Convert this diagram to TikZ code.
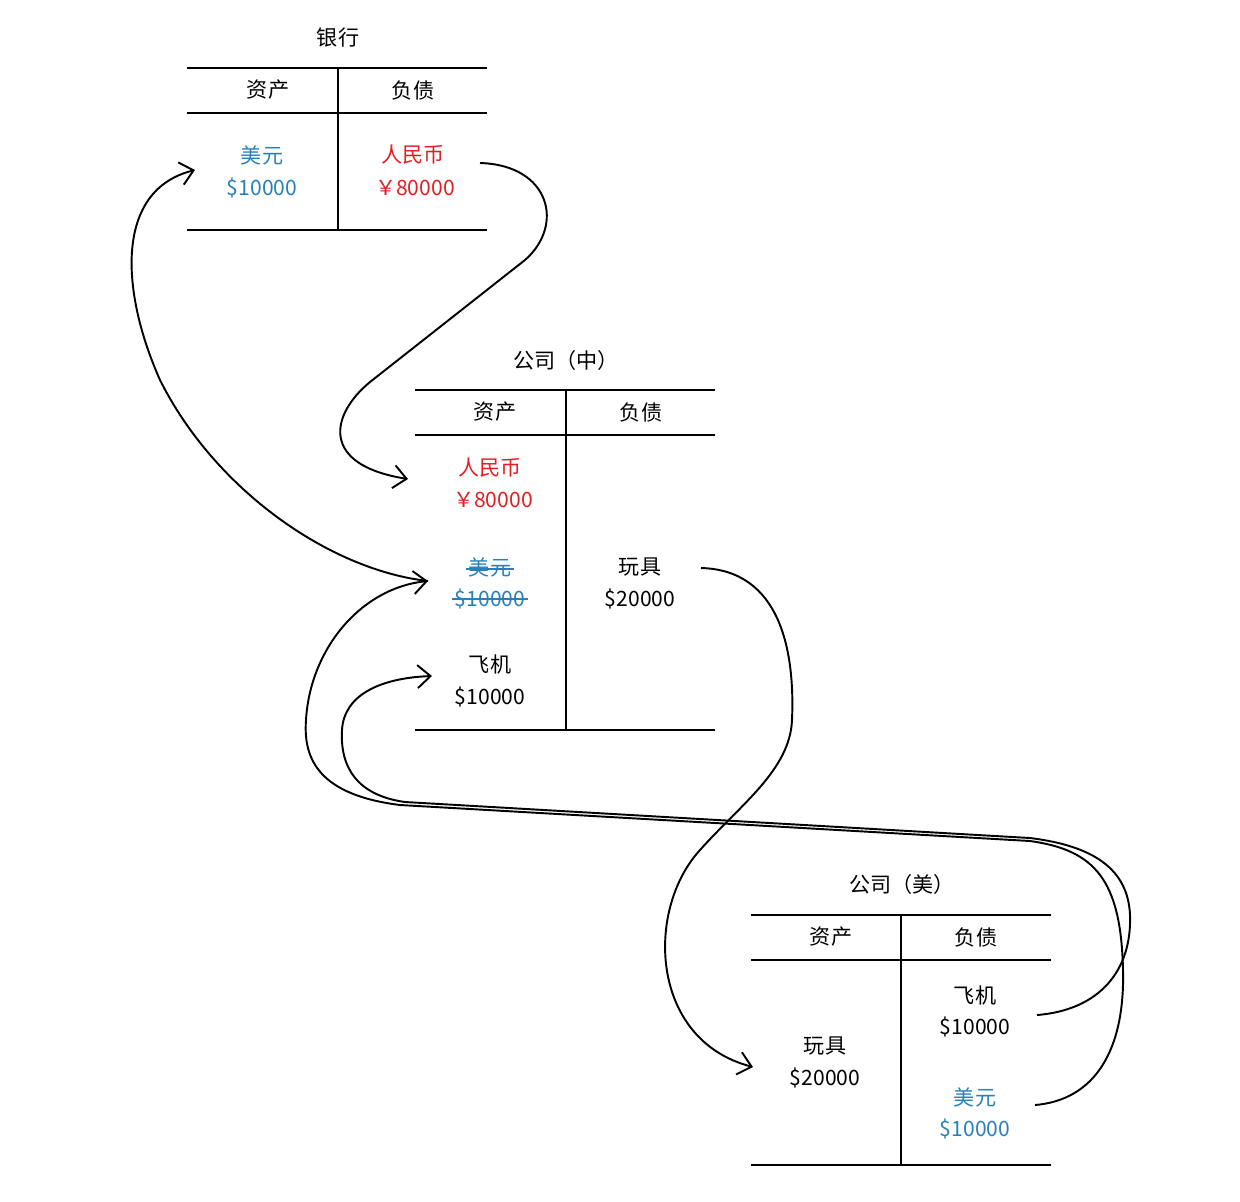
\documentclass[tikz,border=0pt]{standalone}
\usepackage{fontspec}
\setmainfont{Noto Sans CJK SC}
\usetikzlibrary{arrows.meta}
\definecolor{cblue}{RGB}{41,128,185}
\definecolor{cred}{RGB}{226,30,36}
\begin{document}
\begin{tikzpicture}[x=0.02cm,y=-0.02cm,
  txt/.style={font=\fontsize{12}{14}\selectfont, inner sep=0pt},
  rule/.style={line width=1.1pt},
  flow/.style={line width=1.1pt, -{Straight Barb[length=2.6mm,width=4.6mm,line width=1.1pt]}},
  strikeline/.style={cblue, line width=1.4pt}]
\useasboundingbox (0,0) rectangle (1240,1201);

% ---------- Bank ----------
\draw[rule] (187,68) -- (487,68);
\draw[rule] (187,113) -- (487,113);
\draw[rule] (187,230) -- (487,230);
\draw[rule] (338,68) -- (338,230);
\node[txt] (bT) at (338,38) {银行};
\node[txt] (bA) at (268,90) {资产};
\node[txt] (bL) at (413,90) {负债};
\node[txt,cblue] (bUSD) at (262,155) {美元};
\node[txt,cblue] (bUSDv) at (262,188) {\$10000};
\node[txt,cred] (bRMB) at (413,155) {人民币};
\node[txt,cred] (bRMBv) at (415,188) {￥80000};

% ---------- Company CN ----------
\draw[rule] (415,390) -- (715,390);
\draw[rule] (415,435) -- (715,435);
\draw[rule] (415,730) -- (715,730);
\draw[rule] (566,390) -- (566,730);
\node[txt] (cT) at (566,360) {公司（中）};
\node[txt] (cA) at (495,412) {资产};
\node[txt] (cL) at (641,412) {负债};
\node[txt,cred] (cRMB) at (490,468) {人民币};
\node[txt,cred] (cRMBv) at (493,500) {￥80000};
\node[txt,cblue] (cUSD) at (490,567) {美元};
\node[txt,cblue] (cUSDv) at (490,599) {\$10000};
\node[txt] (cPlane) at (490,664) {飞机};
\node[txt] (cPlanev) at (490,697) {\$10000};
\node[txt] (cToy) at (640,567) {玩具};
\node[txt] (cToyv) at (640,599) {\$20000};
\draw[strikeline] ([xshift=-1.5pt,yshift=-1pt]cUSD.west) -- ([xshift=1.5pt,yshift=-1pt]cUSD.east);
\draw[strikeline] ([xshift=-1.5pt]cUSDv.west) -- ([xshift=1.5pt]cUSDv.east);

% ---------- Company US ----------
\draw[rule] (751,915) -- (1051,915);
\draw[rule] (751,960) -- (1051,960);
\draw[rule] (751,1165) -- (1051,1165);
\draw[rule] (901,915) -- (901,1165);
\node[txt] (uT) at (902,884) {公司（美）};
\node[txt] (uA) at (831,937) {资产};
\node[txt] (uL) at (976,937) {负债};
\node[txt] (uToy) at (825,1046) {玩具};
\node[txt] (uToyv) at (825,1078) {\$20000};
\node[txt] (uPlane) at (975,995) {飞机};
\node[txt] (uPlanev) at (975,1027) {\$10000};
\node[txt,cblue] (uUSD) at (975,1097) {美元};
\node[txt,cblue] (uUSDv) at (975,1129) {\$10000};

% ---------- connector ports ----------
\coordinate (pbRMB) at (480,163);
\coordinate (pcRMB) at (408,479);
\coordinate (pbUSD) at (195,170);
\coordinate (pcUSD) at (428,581);
\coordinate (pcPlane) at (432,676);
\coordinate (pcToy) at (701,568);
\coordinate (puToy) at (753,1067);
\coordinate (puPlane) at (1037,1015);
\coordinate (puUSD) at (1035,1105);

% bank RMB -> company CN RMB
\draw[flow] (pbRMB) .. controls (550,165) and (565,225) .. (525,260)
  -- (370,382) .. controls (330,415) and (320,465) .. (pcRMB);
% company CN USD -> bank USD
\draw[flow] (pcUSD) .. controls (330,570) and (215,490) .. (160,380)
  .. controls (120,290) and (115,190) .. (pbUSD);
% company US USD -> company CN USD
\draw[flow] (puUSD) .. controls (1095,1100) and (1125,1050) .. (1123,970)
  .. controls (1121,880) and (1095,850) .. (1030,841)
  -- (400,805) .. controls (320,795) and (303,760) .. (306,720)
  .. controls (310,650) and (360,588) .. (pcUSD);
% company US plane -> company CN plane
\draw[flow] (puPlane) .. controls (1100,1010) and (1132,970) .. (1130,915)
  .. controls (1128,870) and (1095,846) .. (1030,838)
  -- (405,802) .. controls (355,795) and (340,765) .. (342,730)
  .. controls (344,695) and (380,678) .. (pcPlane);
% company CN toy -> company US toy
\draw[flow] (pcToy) .. controls (780,570) and (795,650) .. (792,720)
  .. controls (790,770) and (740,805) .. (700,850)
  .. controls (645,910) and (650,1040) .. (puToy);
\end{tikzpicture}
\end{document}
